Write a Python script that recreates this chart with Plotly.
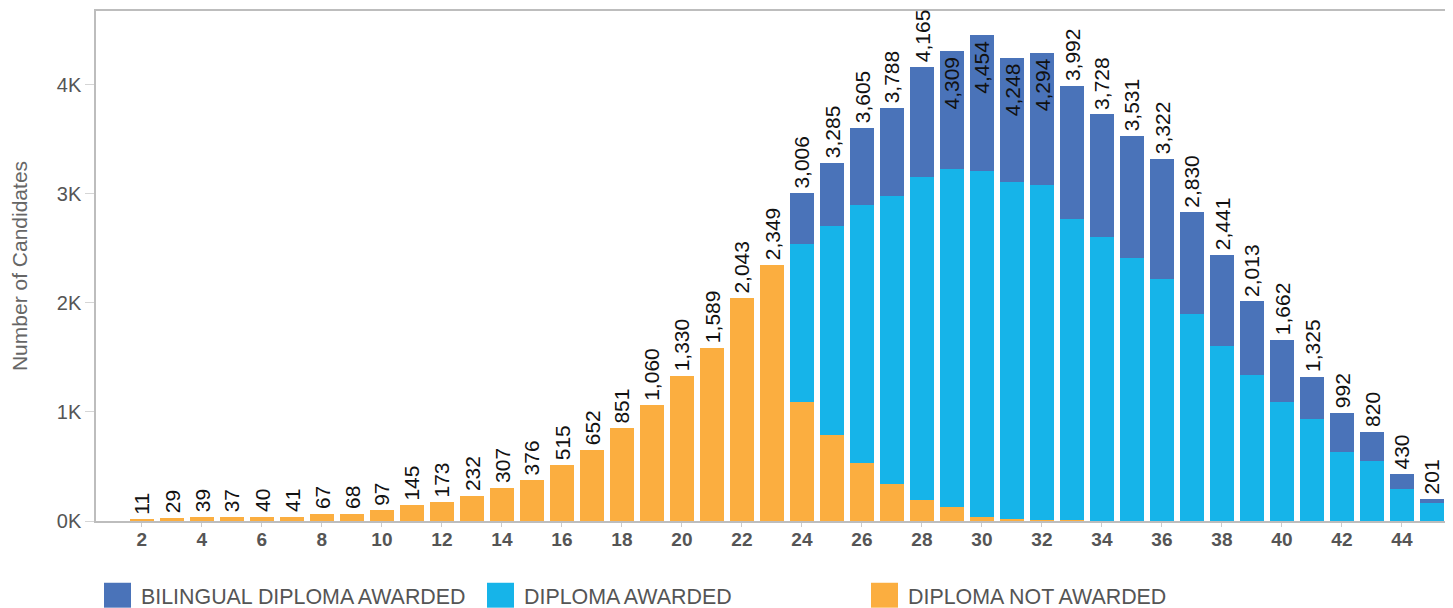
import plotly.graph_objects as go

scores = list(range(2, 46))
totals = [11, 29, 39, 37, 40, 41, 67, 68, 97, 145, 173, 232, 307, 376, 515, 652, 851, 1060,
          1330, 1589, 2043, 2349,
          3006, 3285, 3605, 3788, 4165, 4309, 4454, 4248, 4294, 3992, 3728, 3531, 3322,
          2830, 2441, 2013, 1662, 1325, 992, 820, 430, 201]
not_awarded = [11, 29, 39, 37, 40, 41, 67, 68, 97, 145, 173, 232, 307, 376, 515, 652, 851, 1060,
               1330, 1589, 2043, 2349,
               1090, 786, 529, 337, 192, 127, 34, 19, 10, 5, 0, 0, 0,
               0, 0, 0, 0, 0, 0, 0, 0, 0]
diploma = [0] * 22 + [1446, 1923, 2372, 2648, 2966, 3105, 3180, 3092, 3067, 2769, 2601, 2409, 2217,
                      1897, 1605, 1340, 1093, 938, 636, 554, 289, 161]
bilingual = [0] * 22 + [470, 576, 704, 803, 1007, 1077, 1240, 1137, 1217, 1218, 1127, 1122, 1105,
                        933, 836, 673, 569, 387, 356, 266, 141, 40]
inside_label_scores = [29, 30, 31, 32]

series_names = ["DIPLOMA NOT AWARDED", "DIPLOMA AWARDED", "BILINGUAL DIPLOMA AWARDED"]
colors = {"BILINGUAL DIPLOMA AWARDED": "#4a73b9",
          "DIPLOMA AWARDED": "#16b4e9",
          "DIPLOMA NOT AWARDED": "#fbae40"}
values = {"DIPLOMA NOT AWARDED": not_awarded,
          "DIPLOMA AWARDED": diploma,
          "BILINGUAL DIPLOMA AWARDED": bilingual}
legend_order = ["BILINGUAL DIPLOMA AWARDED", "DIPLOMA AWARDED", "DIPLOMA NOT AWARDED"]

# page body has an 8px margin: figure drawn 8px right/down
OFF = 8
W, H = 1453 - OFF, 608 - OFF
ML, MR, MT, MB = 96 - OFF, 7, 9 - OFF, 87
PW, PH = W - ML - MR, H - MT - MB

def px_x(px):
    return (px - OFF - ML) / PW

def px_y(py):
    return (H - MB - (py - OFF)) / PH

fig = go.Figure()
for name in series_names:
    fig.add_trace(go.Bar(x=scores, y=values[name], name=name,
                         marker=dict(color=colors[name], line=dict(width=0)),
                         showlegend=False))

FONT = "Liberation Sans, Arial, sans-serif"
annotations = []
for s, t in zip(scores, totals):
    inside = s in inside_label_scores
    annotations.append(dict(x=s, y=t, xref="x", yref="y", text=f"{t:,}", showarrow=False,
                            textangle=-90, yanchor="top" if inside else "bottom",
                            xanchor="center", yshift=-3 if inside else 3,
                            font=dict(family=FONT, size=21, color="#111")))

# manual legend
shapes = []
legend_x = [104, 487, 871]
for lx, name in zip(legend_x, legend_order):
    shapes.append(dict(type="rect", xref="paper", yref="paper",
                       x0=px_x(lx), x1=px_x(lx + 27), y0=px_y(608), y1=px_y(583),
                       fillcolor=colors[name], line=dict(width=0)))
    annotations.append(dict(x=px_x(lx + 35), y=px_y(597), xref="paper", yref="paper",
                            text=name, showarrow=False, xanchor="left", yanchor="middle",
                            font=dict(family=FONT, size=21.4, color="#555")))

fig.update_layout(
    width=W, height=H,
    margin=dict(l=ML, r=MR, t=MT, b=MB, pad=0),
    barmode="stack", bargap=0.2,
    plot_bgcolor="white", paper_bgcolor="white",
    font=dict(family=FONT),
    annotations=annotations, shapes=shapes,
    showlegend=False,
)
fig.update_xaxes(range=[0.47, 45.47], tickmode="array", tickvals=list(range(2, 45, 2)),
                 ticktext=[str(v) for v in range(2, 45, 2)],
                 ticks="outside", ticklen=4, tickcolor="#cccccc", tickwidth=1,
                 ticklabelstandoff=-4,
                 tickfont=dict(family=FONT, size=19, color="#555", weight="bold"),
                 showline=True, mirror=True, linecolor="#bdbdbd", linewidth=1.5,
                 showgrid=False, zeroline=False, layer="below traces")
fig.update_yaxes(range=[0, 4677], tickmode="array", tickvals=[0, 1000, 2000, 3000, 4000],
                 ticktext=["0K", "1K", "2K", "3K", "4K"],
                 ticks="outside", ticklen=9, tickcolor="#d5d5d5", tickwidth=1,
                 tickfont=dict(family=FONT, size=20, color="#555"),
                 title=dict(text="Number of Candidates", font=dict(family=FONT, size=21, color="#666"),
                            standoff=25),
                 showline=True, mirror=True, linecolor="#bdbdbd", linewidth=1.5,
                 showgrid=False, zeroline=False, layer="below traces")

fig.write_html("out.html")
